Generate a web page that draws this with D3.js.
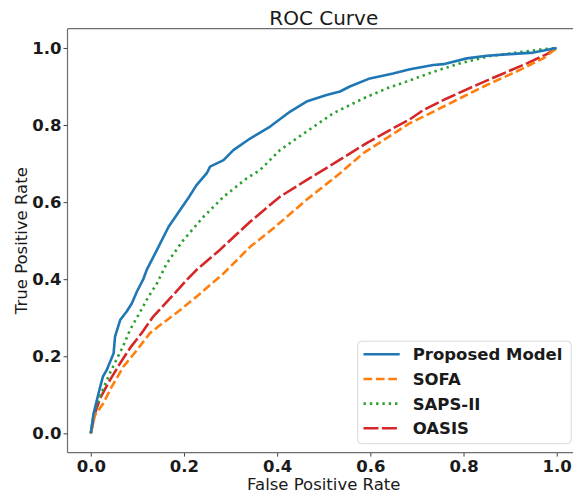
<!DOCTYPE html>
<html>
<head>
<meta charset="utf-8">
<script src="https://cdn.jsdelivr.net/npm/d3@7"></script>
<style>
  body { margin: 0; background: #fff; }
  text { font-family: "DejaVu Sans", sans-serif; }
</style>
</head>
<body>
<div id="plot"></div>
<script>
// ROC points
const modelFpr = [0, 0.006, 0.013, 0.020, 0.026, 0.034, 0.049, 0.052, 0.063, 0.077, 0.088, 0.099, 0.112, 0.120, 0.142, 0.167, 0.192, 0.209, 0.227, 0.249, 0.256, 0.285, 0.306, 0.342, 0.385, 0.428, 0.463, 0.506, 0.535, 0.556, 0.599, 0.649, 0.685, 0.735, 0.757, 0.807, 0.850, 0.900, 0.950, 1.0]
const modelTpr = [0, 0.052, 0.086, 0.120, 0.147, 0.164, 0.208, 0.251, 0.294, 0.316, 0.337, 0.368, 0.398, 0.424, 0.476, 0.536, 0.580, 0.610, 0.644, 0.675, 0.692, 0.709, 0.735, 0.765, 0.796, 0.835, 0.861, 0.878, 0.887, 0.900, 0.921, 0.934, 0.945, 0.956, 0.958, 0.973, 0.980, 0.984, 0.988, 1.0]

const sofaFpr = [0, 0.009, 0.027, 0.045, 0.070, 0.099, 0.127, 0.149, 0.192, 0.235, 0.285, 0.342, 0.392, 0.463, 0.535, 0.585, 0.635, 0.685, 0.721, 0.785, 0.850, 0.914, 0.971, 1.0]
const sofaTpr = [0, 0.047, 0.078, 0.121, 0.173, 0.216, 0.260, 0.281, 0.320, 0.363, 0.415, 0.484, 0.532, 0.606, 0.675, 0.727, 0.766, 0.805, 0.826, 0.865, 0.904, 0.939, 0.973, 1.0]

const sapsFpr = [0, 0.005, 0.015, 0.028, 0.044, 0.069, 0.084, 0.104, 0.124, 0.142, 0.163, 0.199, 0.242, 0.285, 0.335, 0.363, 0.406, 0.463, 0.521, 0.585, 0.635, 0.678, 0.735, 0.792, 0.857, 0.914, 0.971, 1.0]
const sapsTpr = [0, 0.040, 0.080, 0.120, 0.164, 0.225, 0.268, 0.311, 0.355, 0.389, 0.441, 0.502, 0.562, 0.614, 0.662, 0.683, 0.735, 0.783, 0.831, 0.869, 0.895, 0.913, 0.938, 0.960, 0.979, 0.988, 0.997, 1.0]

const oasisFpr = [0, 0.009, 0.020, 0.041, 0.063, 0.084, 0.109, 0.134, 0.170, 0.206, 0.227, 0.277, 0.342, 0.406, 0.463, 0.528, 0.592, 0.642, 0.685, 0.714, 0.764, 0.821, 0.878, 0.936, 0.979, 1.0]
const oasisTpr = [0, 0.052, 0.091, 0.138, 0.182, 0.221, 0.260, 0.303, 0.350, 0.398, 0.424, 0.476, 0.549, 0.614, 0.657, 0.705, 0.753, 0.787, 0.815, 0.839, 0.869, 0.900, 0.930, 0.960, 0.984, 1.0]

const SERIES_NAMES = ["Proposed Model", "SOFA", "SAPS-II", "OASIS"]
const TICKS = [0, 0.2, 0.4, 0.6, 0.8, 1.0]

const series = [
  {name: SERIES_NAMES[0], fpr: modelFpr, tpr: modelTpr, color: "#1f77b4", dash: null},
  {name: SERIES_NAMES[1], fpr: sofaFpr, tpr: sofaTpr, color: "#ff7f0e", dash: "8.7,3.7"},
  {name: SERIES_NAMES[2], fpr: sapsFpr, tpr: sapsTpr, color: "#2ca02c", dash: "2.4,3.9"},
  {name: SERIES_NAMES[3], fpr: oasisFpr, tpr: oasisTpr, color: "#d62728", dash: "15,3.4"}
]

const width = 573
const height = 496
const plotLeft = 67.5, plotRight = 580, plotTop = 28.7, plotBottom = 452.6

const svg = d3.select("#plot")
  .append("svg")
    .attr("width", width)
    .attr("height", height)

// axes limits like matplotlib's 5% margin
const x = d3.scaleLinear().domain([-0.05, 1.05]).range([plotLeft, plotRight])
const y = d3.scaleLinear().domain([-0.05, 1.05]).range([plotBottom, plotTop])

// spines: left, top, bottom (right one falls off the picture)
const spine = "#6e6e6e"
svg.append("line").attr("x1", plotLeft).attr("x2", plotLeft).attr("y1", plotTop).attr("y2", plotBottom)
  .attr("stroke", spine).attr("stroke-width", 1.2)
svg.append("line").attr("x1", plotLeft).attr("x2", plotRight).attr("y1", plotTop).attr("y2", plotTop)
  .attr("stroke", spine).attr("stroke-width", 1.2)

const xAxis = svg.append("g")
  .attr("transform", "translate(0," + plotBottom + ")")
  .call(d3.axisBottom(x).tickValues(TICKS).tickFormat(d3.format(".1f")).tickSize(4).tickPadding(4))
const yAxis = svg.append("g")
  .attr("transform", "translate(" + plotLeft + ",0)")
  .call(d3.axisLeft(y).tickValues(TICKS).tickFormat(d3.format(".1f")).tickSize(4).tickPadding(2))

for (const ax of [xAxis, yAxis]) {
  ax.select(".domain").remove()
  ax.selectAll(".tick line").attr("stroke", "#444").attr("stroke-width", 1)
  ax.selectAll(".tick text")
    .style("font-family", "DejaVu Sans")
    .style("font-size", "16.5px")
    .style("font-weight", "bold")
    .attr("fill", "#1a1a1a")
}
svg.append("line").attr("x1", plotLeft).attr("x2", plotRight).attr("y1", plotBottom).attr("y2", plotBottom)
  .attr("stroke", spine).attr("stroke-width", 1.2)

// curves
const line = d3.line()
  .x(function(d) { return x(d[0]) })
  .y(function(d) { return y(d[1]) })

svg.append("g")
  .selectAll("path")
  .data(series.slice().reverse())
  .enter()
  .append("path")
    .attr("d", function(d) { return line(d3.zip(d.fpr, d.tpr)) })
    .attr("fill", "none")
    .attr("stroke", function(d) { return d.color })
    .attr("stroke-width", 2.6)
    .attr("stroke-dasharray", function(d) { return d.dash })
    .attr("stroke-linejoin", "round")

// title and labels
svg.append("text")
  .attr("x", (plotLeft + plotRight) / 2)
  .attr("y", 25)
  .attr("text-anchor", "middle")
  .style("font-size", "20px")
  .attr("fill", "#1a1a1a")
  .text("ROC Curve")

svg.append("text")
  .attr("x", (plotLeft + plotRight) / 2)
  .attr("y", 490)
  .attr("text-anchor", "middle")
  .style("font-size", "16.5px")
  .attr("fill", "#1a1a1a")
  .text("False Positive Rate")

svg.append("text")
  .attr("transform", "translate(27," + ((plotTop + plotBottom) / 2) + ") rotate(-90)")
  .attr("text-anchor", "middle")
  .style("font-size", "16.5px")
  .attr("fill", "#1a1a1a")
  .text("True Positive Rate")

// legend
const legend = svg.append("g")
legend.append("rect")
  .attr("x", 357.7)
  .attr("y", 341.2)
  .attr("width", 213.5)
  .attr("height", 102.5)
  .attr("rx", 4)
  .attr("fill", "#fff")
  .attr("fill-opacity", 0.8)
  .attr("stroke", "#d9d9d9")
  .attr("stroke-width", 1)

const rows = legend.selectAll("g.row")
  .data(series)
  .enter()
  .append("g")
    .attr("transform", function(d, i) { return "translate(0," + (354.3 + i * 24.65) + ")" })

rows.append("line")
  .attr("x1", 363.5)
  .attr("x2", 399.7)
  .attr("stroke", function(d) { return d.color })
  .attr("stroke-width", 2.6)
  .attr("stroke-dasharray", function(d) { return d.dash })

rows.append("text")
  .attr("x", 412.7)
  .attr("y", 6)
  .style("font-size", "16.5px")
  .style("font-weight", "bold")
  .attr("fill", "#1a1a1a")
  .text(function(d) { return d.name })
</script>
</body>
</html>
